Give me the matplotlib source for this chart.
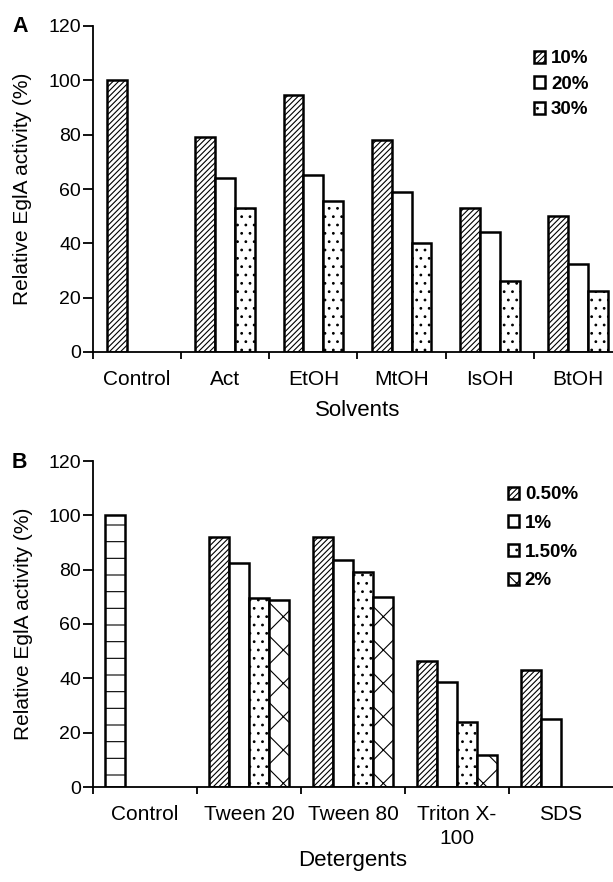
import matplotlib
matplotlib.use("Agg")
import matplotlib.pyplot as plt
from matplotlib.patches import Patch
import numpy as np

plt.rcParams['font.family'] = ['Liberation Sans', 'DejaVu Sans']
plt.rcParams['hatch.linewidth'] = 0.8

# Panel A data
solvents = ["Control", "Act", "EtOH", "MtOH", "IsOH", "BtOH"]
solv_series = ["10%", "20%", "30%"]
solv_10 = [100, 79, 94.5, 78, 53, 50]
solv_20 = [np.nan, 64, 65, 59, 44, 32.5]
solv_30 = [np.nan, 53, 55.5, 40, 26, 22.5]

# Panel B data
detergents = ["Control", "Tween 20", "Tween 80", "Triton X-\n100", "SDS"]
det_series = ["0.50%", "1%", "1.50%", "2%"]
det_05 = [100, 92, 92, 46.5, 43]
det_1 = [np.nan, 82.5, 83.5, 38.5, 25]
det_15 = [np.nan, 69.5, 79, 24, np.nan]
det_2 = [np.nan, 69, 70, 11.7, np.nan]

yticks = [0, 20, 40, 60, 80, 100, 120]

W, H = 613, 882
fig = plt.figure(figsize=(W / 100, H / 100), dpi=100)

def px_axes(l, t, r, b):
    return fig.add_axes([l / W, (H - b) / H, (r - l) / W, (b - t) / H])

def style(ax, ncat, cats, xlabel, xlab_y):
    ax.set_ylim(0, 120)
    ax.set_xlim(-0.5, ncat - 0.5)
    ax.set_yticks(yticks)
    ax.tick_params(axis='y', labelsize=14, direction='out', length=7, width=1.3, pad=1.5)
    ax.set_xticks(range(ncat))
    ax.set_xticklabels(cats, fontsize=15, linespacing=1.3)
    ax.tick_params(axis='x', which='major', length=0, pad=13)
    ax.set_xticks(np.arange(-0.5, ncat - 0.5, 1.0), minor=True)
    ax.tick_params(axis='x', which='minor', direction='out', length=5, width=1.3)
    for s in ['top', 'right']:
        ax.spines[s].set_visible(False)
    for s in ['left', 'bottom']:
        ax.spines[s].set_linewidth(1.3)
    ax.set_ylabel("Relative EglA activity (%)", fontsize=15)
    ax.set_xlabel(xlabel, fontsize=16)
    ax.xaxis.label.set_va('center')
    ax.xaxis.set_label_coords(0.5, xlab_y)

# Panel A
axA = px_axes(93, 26, 622, 352)
nA = len(solvents)
wA = 0.225
xA = np.arange(nA)
seriesA = [solv_10, solv_20, solv_30]
hatchA = ['//////', '', '..']
for i, (vals, hat, lab) in enumerate(zip(seriesA, hatchA, solv_series)):
    off = (i - 1) * wA
    axA.bar(xA + off, vals, wA, facecolor='white', edgecolor='black',
            linewidth=1.8, hatch=hat, label=lab)
style(axA, nA, solvents, "Solvents", -0.178)
axA.yaxis.set_label_coords(-0.115, 0.5)
hA = [Patch(facecolor='white', edgecolor='black', linewidth=1.8, hatch=h, label=l)
      for h, l in zip(hatchA, solv_series)]
axA.legend(handles=hA, loc='upper left', bbox_to_anchor=(0.834, 0.925), frameon=False,
           prop={'weight': 'bold', 'size': 13.5}, handlelength=0.6,
           handleheight=0.6, handletextpad=0.3, labelspacing=0.45,
           borderpad=0, borderaxespad=0)

# Panel B
axB = px_axes(93, 461, 613, 787)
nB = len(detergents)
wB = 0.19
xB = np.arange(nB)
seriesB = [det_05, det_1, det_15, det_2]
hatchB = ['//////', '', '..', 'x']
for i, (vals, hat, lab) in enumerate(zip(seriesB, hatchB, det_series)):
    off = (i - 1.5) * wB
    bars = axB.bar(xB + off, vals, wB, facecolor='white', edgecolor='black',
                   linewidth=1.8, hatch=hat, label=lab)
    if i == 0:
        bars[0].set_hatch('-')
style(axB, nB, detergents, "Detergents", -0.224)
axB.yaxis.set_label_coords(-0.115, 0.5)
hB = [Patch(facecolor='white', edgecolor='black', linewidth=1.8, hatch=h, label=l)
      for h, l in zip(hatchB, det_series)]
axB.legend(handles=hB, loc='upper left', bbox_to_anchor=(0.798, 0.922), frameon=False,
           prop={'weight': 'bold', 'size': 13.5}, handlelength=0.6,
           handleheight=0.6, handletextpad=0.3, labelspacing=0.62,
           borderpad=0, borderaxespad=0)

fig.text(12 / W, 1 - 27 / H, "A", fontsize=15.5, fontweight='bold', va='center')
fig.text(12 / W, 1 - 463 / H, "B", fontsize=15.5, fontweight='bold', va='center')

fig.savefig("out.png", dpi=100)
